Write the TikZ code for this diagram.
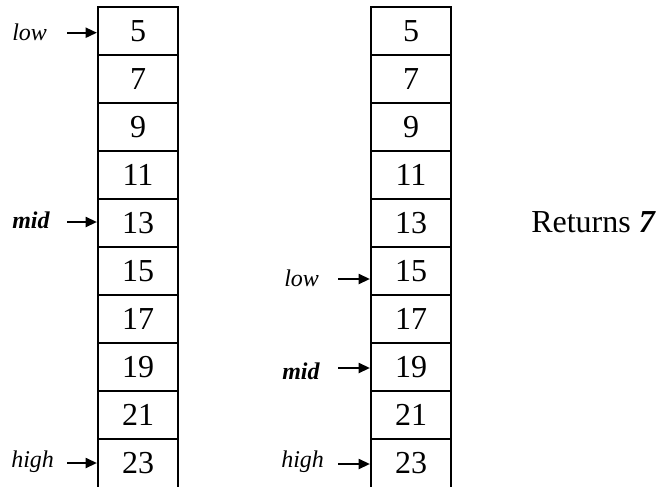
\documentclass[tikz,border=0pt]{standalone}
\usepackage{fontspec}
\setmainfont{Liberation Serif}
\usetikzlibrary{arrows.meta}
\begin{document}
\begin{tikzpicture}[x=0.75pt,y=-0.75pt,
  cell/.style={draw, line width=2pt, outer sep=0pt, minimum width=60pt,
    minimum height=36pt, inner sep=0pt, font=\fontsize{24}{24}\selectfont},
  opencell/.style={outer sep=0pt, minimum width=60pt, minimum height=36pt,
    inner sep=0pt, font=\fontsize{24}{24}\selectfont},
  side/.style={line width=2pt},
  lbl/.style={anchor=base west, inner sep=0pt, font=\fontsize{18}{18}\selectfont},
  ptr/.style={line width=1.6pt, -{Triangle[length=8.5pt, width=7.5pt]}, shorten >=0.8pt}]
\useasboundingbox (0,0) rectangle (661,487);

% left array
\foreach \v [count=\k] in {5,7,...,21}
  \node[cell] (L\k) at (138, {31+48*(\k-1)}) {\v};
\node[opencell] (L10) at (138, 463) {23};
\draw[side] (L10.north west) -- (L10.south west) (L10.north east) -- (L10.south east);

% right array
\foreach \v [count=\k] in {5,7,...,21}
  \node[cell] (R\k) at (411, {31+48*(\k-1)}) {\v};
\node[opencell] (R10) at (411, 463) {23};
\draw[side] (R10.north west) -- (R10.south west) (R10.north east) -- (R10.south east);

% pointers, left array
\node[lbl] (tLlow) at (12,40) {\textit{low}};
\node[lbl] (tLmid) at (12,228) {\textbf{\textit{mid}}};
\node[lbl] (tLhigh) at (11,467) {\textit{high}};
\coordinate (aLlow) at (67,32.7);
\coordinate (aLmid) at (67,222);
\coordinate (aLhigh) at (67,463);
\draw[ptr] (aLlow) -- (aLlow -| L1.west);
\draw[ptr] (aLmid) -- (aLmid -| L5.west);
\draw[ptr] (aLhigh) -- (aLhigh -| L10.west);

% pointers, right array
\node[lbl] (tRlow) at (284,286) {\textit{low}};
\node[lbl] (tRmid) at (282,379) {\textbf{\textit{mid}}};
\node[lbl] (tRhigh) at (281,467) {\textit{high}};
\coordinate (aRlow) at (338,279);
\coordinate (aRmid) at (338,368);
\coordinate (aRhigh) at (338,464);
\draw[ptr] (aRlow) -- (aRlow -| R6.west);
\draw[ptr] (aRmid) -- (aRmid -| R8.west);
\draw[ptr] (aRhigh) -- (aRhigh -| R10.west);

% result
\node[anchor=base west, inner sep=0pt, font=\fontsize{24}{24}\selectfont]
  (result) at (531,232) {Returns \textbf{\textit{7}}};
\end{tikzpicture}
\end{document}
